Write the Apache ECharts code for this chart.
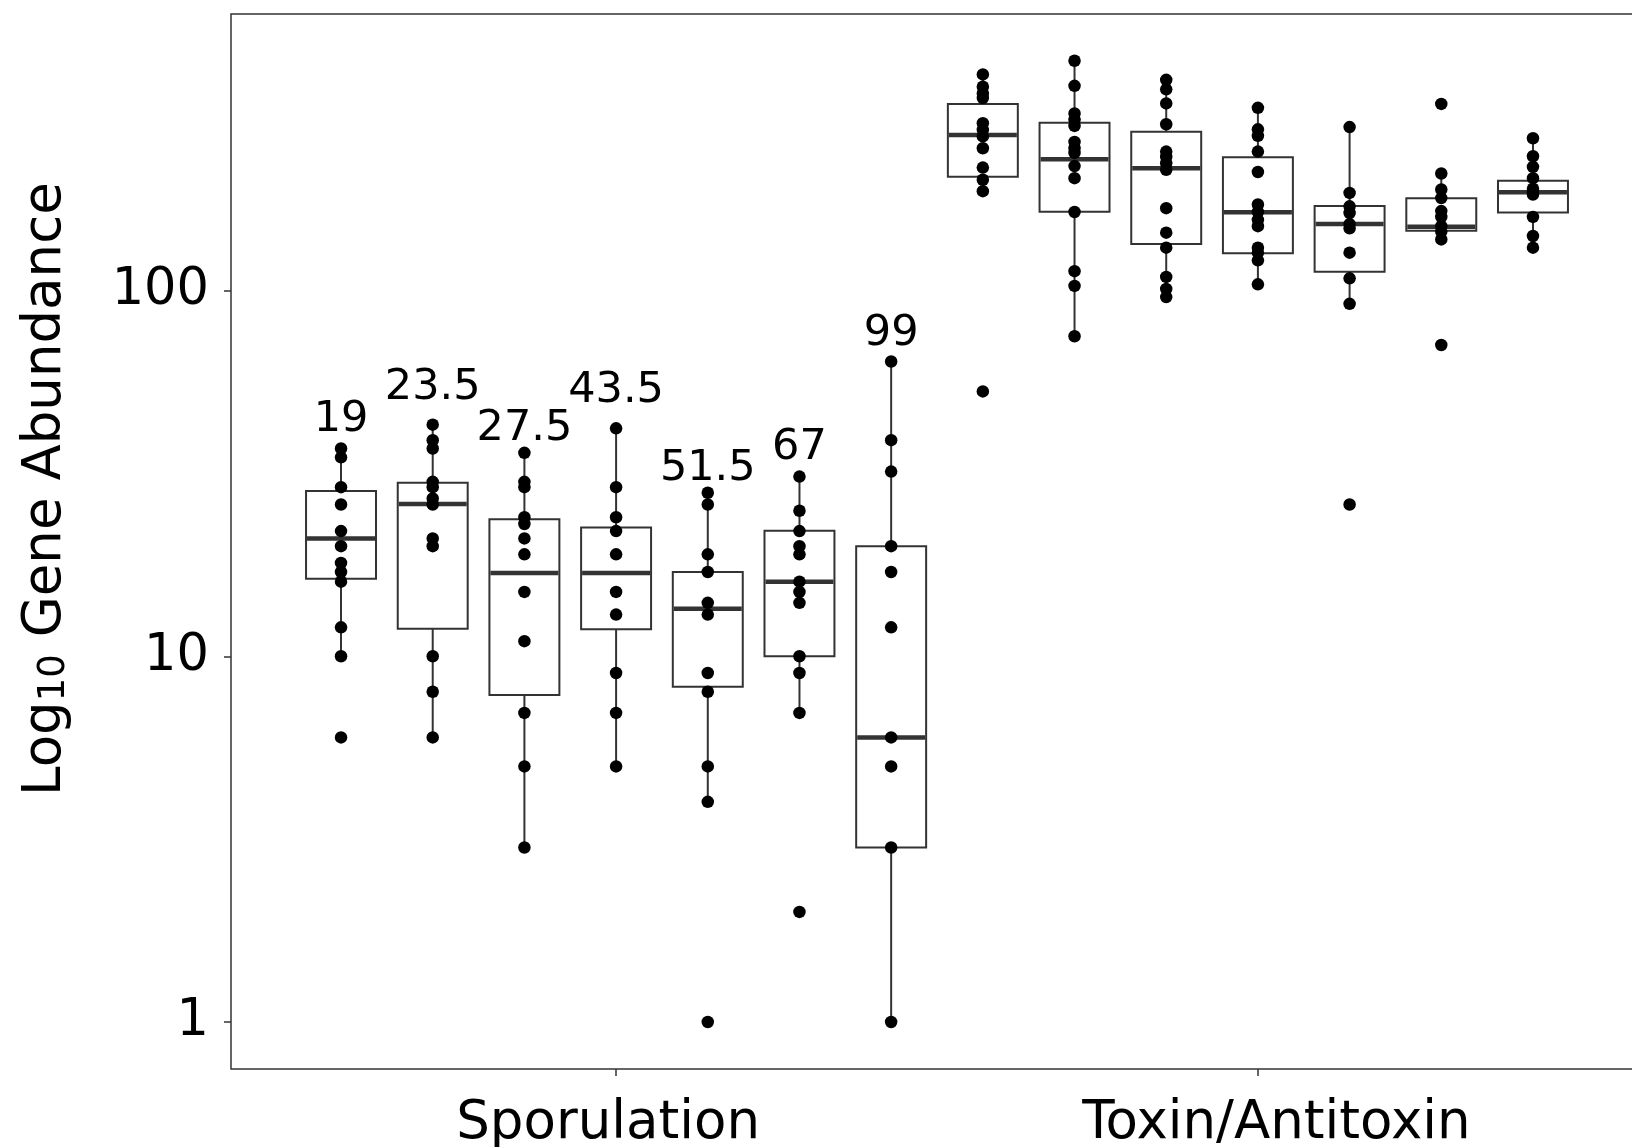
<!DOCTYPE html>
<html><head><meta charset="utf-8">
<script src="https://cdn.jsdelivr.net/npm/echarts@6/dist/echarts.min.js"></script>
<style>html,body{margin:0;padding:0;background:#fff}#c{width:1632px;height:1147px}</style>
</head><body><div id="c"></div>
<script>
// ---- data ----
const boxNames = ['S1','S2','S3','S4','S5','S6','S7','T1','T2','T3','T4','T5','T6','T7'];
const groupLabels = ['Sporulation', 'Toxin/Antitoxin'];
const groupTickPos = [1, 2];
const yTicks = [1, 10, 100];
// [lower whisker, Q1, median, Q3, upper whisker]
const boxStats = [
  [10, 16.3, 21.0, 28.3, 37],
  [6, 11.9, 26.1, 29.8, 43],
  [3, 7.84, 16.9, 23.7, 36],
  [5, 11.85, 16.9, 22.5, 42],
  [4, 8.26, 13.5, 17.0, 28],
  [7, 10, 16.0, 22.05, 31],
  [1, 3, 6, 20, 64],
  [186.5, 204.9, 266.4, 323.8, 390],
  [75, 164.4, 228.6, 287.9, 425],
  [96, 134.1, 216, 272, 377],
  [104, 126.5, 163.8, 231.5, 316],
  [92, 112.6, 152.1, 170.3, 280],
  [138, 145.8, 149.5, 178.8, 209],
  [130.5, 163.4, 185.7, 199.8, 261]
];
const points = [
  [37,35,29,26,22,20,18,17,16,12,10,6],
  [43,39,37,30,29,27,26,21,20,10,8,6],
  [36,30,29,24,23,21,19,15,11,7,5,3],
  [42,29,24,22,19,15,13,9,7,5],
  [28,26,19,17,14,13,9,8,5,4,1],
  [31,25,22,20,19,16,15,14,10,9,7,2],
  [64,39,32,20,17,12,6,5,3,1],
  [390,361,346,336,287,275,264,245,217,201,187,53],
  [425,363,305,293,282,255,245,238,219,203,164,113,103,75],
  [377,355,325,285,240,232,223,214,168,144,131,109,101,96],
  [316,276,265,240,211,172,164,156,150,131,127,121,104],
  [280,185,170,163,152,148,127,108,92,26],
  [324,209,189,179,165,159,150,145,138,71],
  [261,233,218,203,190,186,183,159,141,131]
];
const annotLabels = ['19','23.5','27.5','43.5','51.5','67','99'];
const annotY = [44.4, 54.2, 41.8, 53.2, 32.5, 37.1, 76.2];
const yMin = 0.7438, yMax = 570.6;

// ---- chart ----
const FONT = 'DejaVu Sans';
const chart = echarts.init(document.getElementById('c'), null, {renderer: 'canvas'});

const boxData = boxStats.map((s, i) => [i].concat(s));
const pointData = [];
points.forEach((arr, i) => arr.forEach(v => pointData.push([i, v])));
const annotData = annotLabels.map((t, i) => [i, annotY[i]]);

const slot = 1412 / 15.4;
const xLabStyle = {fontSize: 53, fontFamily: FONT, color: '#000'};

const option = {
  animation: false,
  backgroundColor: '#fff',
  grid: [
    {left: 231, top: 14, width: 1412, height: 1055, show: true, borderColor: '#333', borderWidth: 1.5,
     backgroundColor: 'transparent', outerBoundsMode: 'none', containLabel: false},
    {left: 231 + 0.7 * slot, top: 14, width: 14 * slot, height: 1055, show: false,
     outerBoundsMode: 'none', containLabel: false}
  ],
  xAxis: [
    {gridIndex: 0, type: 'value', min: 0.4, max: 2.6,
     splitLine: {show: false}, axisLine: {show: false},
     axisTick: {show: true, customValues: groupTickPos, length: 7, lineStyle: {color: '#333', width: 1.5}},
     axisLabel: {customValues: groupTickPos,
                 formatter: v => (Math.round(v) === 1 ? '{g1|' : '{g2|') + groupLabels[Math.round(v) - 1] + '}',
                 rich: {
                   g1: Object.assign({padding: [0, 16, 0, 0]}, xLabStyle),
                   g2: Object.assign({padding: [0, 0, 0, 37]}, xLabStyle)
                 },
                 fontSize: 53, color: '#000', margin: 29, fontFamily: FONT}},
    {gridIndex: 1, type: 'category', data: boxNames, boundaryGap: true, show: false}
  ],
  yAxis: [
    {gridIndex: 0, type: 'log', logBase: 10, min: yMin, max: yMax,
     splitLine: {show: false}, axisLine: {show: false},
     axisTick: {show: true, customValues: yTicks, length: 7, lineStyle: {color: '#333', width: 1.5}},
     axisLabel: {customValues: yTicks, formatter: v => String(Math.round(v)),
                 fontSize: 51, color: '#000', margin: 22, fontFamily: FONT}},
    {gridIndex: 1, type: 'log', logBase: 10, min: yMin, max: yMax, show: false}
  ],
  graphic: [{
    type: 'text', x: 46, y: 489, rotation: Math.PI / 2,
    style: {
      text: '{a|Log}{b|10}{a| Gene Abundance}',
      align: 'center', verticalAlign: 'middle',
      rich: {
        a: {fontSize: 53, fontFamily: FONT, fill: '#000', color: '#000', lineHeight: 53, verticalAlign: 'top', padding: [0, 0, 6, 0]},
        b: {fontSize: 37, fontFamily: FONT, fill: '#000', color: '#000', lineHeight: 37, verticalAlign: 'bottom'}
      }
    }
  }],
  series: [
    {
      type: 'custom', xAxisIndex: 1, yAxisIndex: 1, z: 2,
      data: boxData,
      encode: {x: 0, y: [1, 2, 3, 4, 5]},
      renderItem: function (params, api) {
        const i = api.value(0);
        const pMin = api.coord([i, api.value(1)]);
        const pQ1 = api.coord([i, api.value(2)]);
        const pMed = api.coord([i, api.value(3)]);
        const pQ3 = api.coord([i, api.value(4)]);
        const pMax = api.coord([i, api.value(5)]);
        const bw = api.size([1, 1], [i, 10])[0] * 0.763;
        const x = pMed[0];
        const ls = {stroke: '#333', lineWidth: 2};
        return {type: 'group', children: [
          {type: 'line', shape: {x1: x, y1: pMax[1], x2: x, y2: pQ3[1]}, style: ls},
          {type: 'line', shape: {x1: x, y1: pQ1[1], x2: x, y2: pMin[1]}, style: ls},
          {type: 'rect', shape: {x: x - bw / 2, y: pQ3[1], width: bw, height: pQ1[1] - pQ3[1]},
           style: {fill: '#fff', stroke: '#333', lineWidth: 2}},
          {type: 'line', shape: {x1: x - bw / 2 + 1, y1: pMed[1], x2: x + bw / 2 - 1, y2: pMed[1]},
           style: {stroke: '#333', lineWidth: 4.5}}
        ]};
      }
    },
    {
      type: 'scatter', xAxisIndex: 1, yAxisIndex: 1, z: 3,
      data: pointData, symbol: 'circle', symbolSize: 12.5,
      itemStyle: {color: '#000', opacity: 1}
    },
    {
      type: 'scatter', xAxisIndex: 1, yAxisIndex: 1, z: 4,
      data: annotData, symbolSize: 1, itemStyle: {color: 'rgba(0,0,0,0)', opacity: 1},
      label: {show: true, position: 'inside', formatter: p => annotLabels[p.dataIndex],
              fontSize: 43, color: '#000', fontFamily: FONT}
    }
  ]
};
chart.setOption(option);
</script>
</body></html>
